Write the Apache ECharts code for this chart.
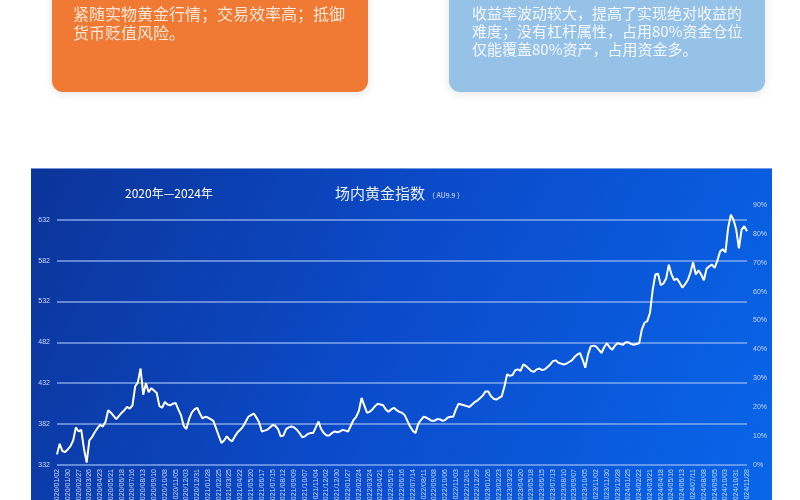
<!DOCTYPE html>
<html>
<head>
<meta charset="utf-8">
<script src="https://cdn.jsdelivr.net/npm/echarts@6/dist/echarts.min.js"></script>
<style>
html,body{margin:0;padding:0;background:#ffffff;}
#chart{width:800px;height:500px;}
</style>
</head>
<body>
<div id="chart"></div>
<script>
// ---- text content ----
const cardLeftLines = ['紧随实物黄金行情；交易效率高；抵御', '货币贬值风险。'];
const cardRightLines = ['收益率波动较大，提高了实现绝对收益的', '难度；没有杠杆属性，占用80%资金仓位', '仅能覆盖80%资产，占用资金多。'];
const periodTitle = '2020年—2024年';
const chartTitle = '场内黄金指数';
const chartSubTitle = '（ AU9.9 ）';

// ---- categories (weekly dates) ----
const dates2020 = ['2020/01/02','2020/01/09','2020/01/16','2020/01/23','2020/01/30','2020/02/06','2020/02/13','2020/02/20','2020/02/27','2020/03/05','2020/03/12','2020/03/19','2020/03/26','2020/04/02','2020/04/09','2020/04/16','2020/04/23','2020/04/30','2020/05/07','2020/05/14','2020/05/21','2020/05/28','2020/06/04','2020/06/11','2020/06/18','2020/06/25','2020/07/02','2020/07/09','2020/07/16','2020/07/23','2020/07/30','2020/08/06','2020/08/13','2020/08/20','2020/08/27','2020/09/03','2020/09/10','2020/09/17','2020/09/24','2020/10/01','2020/10/08','2020/10/15','2020/10/22','2020/10/29','2020/11/05','2020/11/12','2020/11/19','2020/11/26','2020/12/03','2020/12/10','2020/12/17','2020/12/24','2020/12/31'];
const dates2021 = ['2021/01/07','2021/01/14','2021/01/21','2021/01/28','2021/02/04','2021/02/11','2021/02/18','2021/02/25','2021/03/04','2021/03/11','2021/03/18','2021/03/25','2021/04/01','2021/04/08','2021/04/15','2021/04/22','2021/04/29','2021/05/06','2021/05/13','2021/05/20','2021/05/27','2021/06/03','2021/06/10','2021/06/17','2021/06/24','2021/07/01','2021/07/08','2021/07/15','2021/07/22','2021/07/29','2021/08/05','2021/08/12','2021/08/19','2021/08/26','2021/09/02','2021/09/09','2021/09/16','2021/09/23','2021/09/30','2021/10/07','2021/10/14','2021/10/21','2021/10/28','2021/11/04','2021/11/11','2021/11/18','2021/11/25','2021/12/02','2021/12/09','2021/12/16','2021/12/23','2021/12/30'];
const dates2022 = ['2022/01/06','2022/01/13','2022/01/20','2022/01/27','2022/02/03','2022/02/10','2022/02/17','2022/02/24','2022/03/03','2022/03/10','2022/03/17','2022/03/24','2022/03/31','2022/04/07','2022/04/14','2022/04/21','2022/04/28','2022/05/05','2022/05/12','2022/05/19','2022/05/26','2022/06/02','2022/06/09','2022/06/16','2022/06/23','2022/06/30','2022/07/07','2022/07/14','2022/07/21','2022/07/28','2022/08/04','2022/08/11','2022/08/18','2022/08/25','2022/09/01','2022/09/08','2022/09/15','2022/09/22','2022/09/29','2022/10/06','2022/10/13','2022/10/20','2022/10/27','2022/11/03','2022/11/10','2022/11/17','2022/11/24','2022/12/01','2022/12/08','2022/12/15','2022/12/22','2022/12/29'];
const dates2023 = ['2023/01/05','2023/01/12','2023/01/19','2023/01/26','2023/02/02','2023/02/09','2023/02/16','2023/02/23','2023/03/02','2023/03/09','2023/03/16','2023/03/23','2023/03/30','2023/04/06','2023/04/13','2023/04/20','2023/04/27','2023/05/04','2023/05/11','2023/05/18','2023/05/25','2023/06/01','2023/06/08','2023/06/15','2023/06/22','2023/06/29','2023/07/06','2023/07/13','2023/07/20','2023/07/27','2023/08/03','2023/08/10','2023/08/17','2023/08/24','2023/08/31','2023/09/07','2023/09/14','2023/09/21','2023/09/28','2023/10/05','2023/10/12','2023/10/19','2023/10/26','2023/11/02','2023/11/09','2023/11/16','2023/11/23','2023/11/30','2023/12/07','2023/12/14','2023/12/21','2023/12/28'];
const dates2024 = ['2024/01/04','2024/01/11','2024/01/18','2024/01/25','2024/02/01','2024/02/08','2024/02/15','2024/02/22','2024/02/29','2024/03/07','2024/03/14','2024/03/21','2024/03/28','2024/04/04','2024/04/11','2024/04/18','2024/04/25','2024/05/02','2024/05/09','2024/05/16','2024/05/23','2024/05/30','2024/06/06','2024/06/13','2024/06/20','2024/06/27','2024/07/04','2024/07/11','2024/07/18','2024/07/25','2024/08/01','2024/08/08','2024/08/15','2024/08/22','2024/08/29','2024/09/05','2024/09/12','2024/09/19','2024/09/26','2024/10/03','2024/10/10','2024/10/17','2024/10/24','2024/10/31','2024/11/07','2024/11/14','2024/11/21','2024/11/28'];

// ---- series values (gold index) ----
const gold2020 = [345,358,349,348,351,355,362,378,373,375,352,335,362,366,372,377,381,379,385,399,396,392,388,392,396,399,403,401,405,428,433,450,418,432,421,426,423,420,404,402,409,406,405,407,408,400,393,380,376,388,396,400,402];
const gold2021 = [395,389,391,390,388,386,377,368,359,362,367,363,361,367,372,375,379,385,391,393,395,390,384,373,374,375,378,381,380,376,367,368,376,378,379,378,375,371,366,367,370,371,371,378,385,376,371,368,368,371,373,372];
const gold2022 = [373,375,374,373,380,387,391,398,414,405,396,397,400,404,407,406,405,400,397,400,402,399,397,396,393,386,379,374,371,382,387,391,390,388,386,386,388,388,386,387,390,391,391,400,407,406,405,404,403,406,409,411];
const gold2023 = [414,417,422,422,416,413,412,414,416,428,443,441,442,448,449,447,455,453,450,447,446,449,450,448,449,452,455,459,460,457,456,455,456,458,460,464,467,469,461,451,467,477,478,477,473,469,476,481,476,473,478,481];
const gold2024 = [480,479,482,482,480,479,480,481,498,506,508,518,546,565,566,552,554,560,577,565,558,560,555,549,553,558,567,580,565,570,565,558,572,575,577,573,582,593,596,592,622,638,632,620,597,620,624,618];

// ---- axis scales ----
const leftAxisMin = 332, leftAxisMax = 650, leftAxisStep = 50;
const rightAxisMin = 0, rightAxisMax = 90, rightAxisStep = 10;

const categories = [].concat(dates2020, dates2021, dates2022, dates2023, dates2024);
const goldIndex = [].concat(gold2020, gold2021, gold2022, gold2023, gold2024);

const chart = echarts.init(document.getElementById('chart'), null, {renderer: 'canvas'});

const cjk = '"Noto Sans CJK SC", "Noto Sans", sans-serif';
const labelColor = '#c9d7f4';

const graphics = [
  // orange card
  {type: 'rect', z: -10, shape: {x: 52, y: -20, width: 316, height: 112, r: 11},
   style: {fill: '#f07a34', shadowBlur: 10, shadowColor: 'rgba(0,0,0,0.10)', shadowOffsetY: 2}},
  // light blue card
  {type: 'rect', z: -10, shape: {x: 449, y: -20, width: 316, height: 112, r: 11},
   style: {fill: '#97c2e7', shadowBlur: 10, shadowColor: 'rgba(0,0,0,0.10)', shadowOffsetY: 2}},
  // chart panel
  {type: 'rect', z: -10, shape: {x: 31, y: 168, width: 741, height: 340},
   style: {fill: new echarts.graphic.LinearGradient(0, 0, 1, 1, [
     {offset: 0, color: '#0c3499'},
     {offset: 0.5, color: '#0b4ccc'},
     {offset: 1, color: '#0966ea'}
   ])}},
  {type: 'line', z: -9, shape: {x1: 31, y1: 168.5, x2: 772, y2: 168.5},
   style: {stroke: 'rgba(140,175,235,0.8)', lineWidth: 1}}
];
cardLeftLines.forEach(function (t, i) {
  graphics.push({type: 'text', z: 5, left: 73, top: 6 + i * 19,
    style: {text: t, fill: '#fde6d6', font: '16px ' + cjk}});
});
cardRightLines.forEach(function (t, i) {
  graphics.push({type: 'text', z: 5, left: 472, top: 6 + i * 18,
    style: {text: t, fill: '#f3f8fe', font: '15px ' + cjk}});
});
graphics.push({type: 'text', z: 5, left: 125, top: 187,
  style: {text: periodTitle, fill: '#ffffff', font: '12px ' + cjk}});
graphics.push({type: 'text', z: 5, left: 335, top: 186,
  style: {text: chartTitle, fill: '#e8eefa', font: '15px ' + cjk}});
graphics.push({type: 'text', z: 5, left: 428, top: 192,
  style: {text: chartSubTitle, fill: '#dfe7f8', font: '7px ' + cjk}});

chart.setOption({
  backgroundColor: 'transparent',
  animation: false,
  graphic: {elements: graphics},
  grid: {left: 57, right: 53, top: 205, bottom: 35, containLabel: false, outerBoundsMode: 'none'},
  xAxis: {
    type: 'category',
    data: categories,
    boundaryGap: false,
    axisLine: {show: false},
    axisTick: {show: false},
    axisLabel: {rotate: 90, interval: 3, fontSize: 7, color: labelColor, margin: 4, fontFamily: 'Liberation Sans'}
  },
  yAxis: [
    {
      type: 'value', min: leftAxisMin, max: leftAxisMax, interval: leftAxisStep,
      axisLine: {show: false}, axisTick: {show: false},
      axisLabel: {fontSize: 7, color: labelColor, margin: 7, showMaxLabel: false, fontFamily: 'Liberation Sans'},
      splitLine: {show: true, showMaxLine: false, lineStyle: {color: 'rgba(150,185,240,0.85)', width: 1.5}}
    },
    {
      type: 'value', position: 'right', min: rightAxisMin, max: rightAxisMax, interval: rightAxisStep,
      axisLine: {show: false}, axisTick: {show: false},
      axisLabel: {fontSize: 7, color: labelColor, margin: 6, formatter: '{value}%', fontFamily: 'Liberation Sans'},
      splitLine: {show: false}
    }
  ],
  series: [{
    type: 'line',
    yAxisIndex: 0,
    data: goldIndex,
    showSymbol: false,
    symbol: 'none',
    lineStyle: {color: '#ffffff', width: 2},
    z: 5
  }]
});
</script>
</body>
</html>
